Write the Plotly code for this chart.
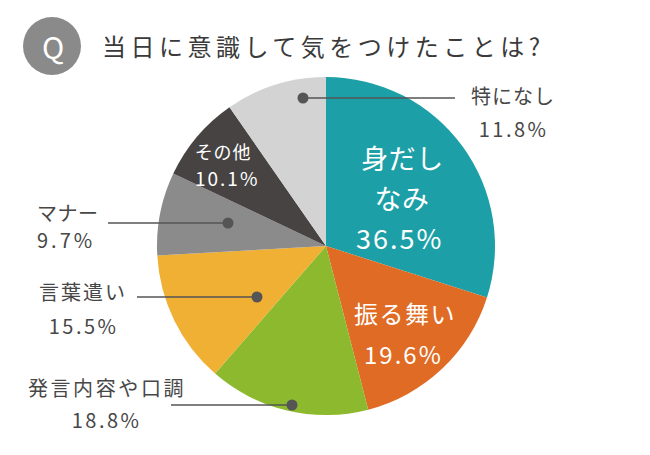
import json
import plotly.graph_objects as go

W, H = 650, 455

# ---- data ----
title_text = "当日に意識して気をつけたことは?"
labels = ["身だしなみ", "振る舞い", "発言内容や口調", "言葉遣い", "マナー", "その他", "特になし"]
values = [36.5, 19.6, 18.8, 15.5, 9.7, 10.1, 11.8]
colors = ["#1C9FA6", "#E06B24", "#8CB92D", "#EFB034", "#8B8B8B", "#474342", "#D3D3D3"]
pct = [f"{v}%" for v in values]

FONT = "Noto Sans CJK JP"
DARK = "#474747"
LINE = "#555555"


def px(x):
    return x / W


def py(y):
    return 1 - y / H


fig = go.Figure(go.Pie(
    values=values, labels=labels, sort=False, direction="clockwise", rotation=0,
    marker=dict(colors=colors, line=dict(width=0)),
    textinfo="none", hoverinfo="skip", showlegend=False,
    domain=dict(x=[px(157), px(495)], y=[py(415), py(77)]),
))

annots = []
spacings = []


def add(text, x, y, size, color, sp=0.0, anchor="center"):
    xx = x + (sp / 2 if anchor == "center" else 0)
    annots.append(dict(
        text=text, x=px(xx), y=py(y), xref="paper", yref="paper",
        xanchor=anchor, yanchor="middle", align=anchor,
        showarrow=False,
        font=dict(family=FONT, size=size, color=color),
    ))
    spacings.append(sp)


# title
add("Q", 53, 46, 30, "white", 0)
add(title_text, 100, 46, 24, "#3a3a3a", 4.5, anchor="left")

# inside labels
add(labels[0][:3], 402, 157, 27, "white", 0.5)
add(labels[0][3:], 402, 197, 27, "white", 0.5)
add(pct[0], 398, 237, 27, "white", 2)
add(labels[1], 404, 312, 24, "white", 1.5)
add(pct[1], 403, 353, 24, "white", 2)
add(labels[5], 223, 151, 18, "white", 0.8)
add(pct[5], 226, 178, 19, "white", 2)

# outside labels
add(labels[6], 512, 95, 20, DARK, 1)
add(pct[6], 512, 128, 20, DARK, 2.5)
add(labels[4], 35, 212, 20, DARK, 0.5, anchor="left")
add(pct[4], 35, 239, 20, DARK, 3, anchor="left")
add(labels[3], 82, 291, 20, DARK, 2)
add(pct[3], 82, 325, 20, DARK, 2.5)
add(labels[2], 106, 387, 20, DARK, 2.6)
add(pct[2], 105, 419, 20, DARK, 2.5)

shapes = [dict(type="circle", xref="paper", yref="paper",
               x0=px(23), x1=px(81), y0=py(75), y1=py(17),
               fillcolor="#8A8A8A", line=dict(width=0), layer="below")]

callouts = [  # (dot_x, dot_y, line_end_x)
    (303, 98, 455),
    (228, 223, 108),
    (257, 297, 137),
    (292, 405, 171),
]
for dx, dy, ex in callouts:
    shapes.append(dict(type="line", xref="paper", yref="paper",
                       x0=px(dx), x1=px(ex), y0=py(dy), y1=py(dy),
                       line=dict(color=LINE, width=1.6)))
    r = 5.5
    shapes.append(dict(type="circle", xref="paper", yref="paper",
                       x0=px(dx - r), x1=px(dx + r), y0=py(dy + r), y1=py(dy - r),
                       fillcolor=LINE, line=dict(width=0)))

fig.update_layout(
    width=W, height=H, margin=dict(l=0, r=0, t=0, b=0),
    paper_bgcolor="white", plot_bgcolor="white",
    annotations=annots, shapes=shapes,
)

post = """
document.body.style.margin = '0';
document.body.style.padding = '0';
document.body.style.overflow = 'hidden';
var gd = document.getElementById('{plot_id}');
var sp = %s;
function ls(){
  gd.querySelectorAll('g.annotation').forEach(function(g){
    var i = +g.getAttribute('data-index');
    var t = g.querySelector('text.annotation-text');
    if (t && sp[i] !== undefined) { t.style.letterSpacing = sp[i] + 'px'; }
  });
}
ls();
gd.on('plotly_afterplot', ls);
""" % json.dumps(spacings)

fig.write_html("out.html", post_script=post, config={"displayModeBar": False, "responsive": False})
